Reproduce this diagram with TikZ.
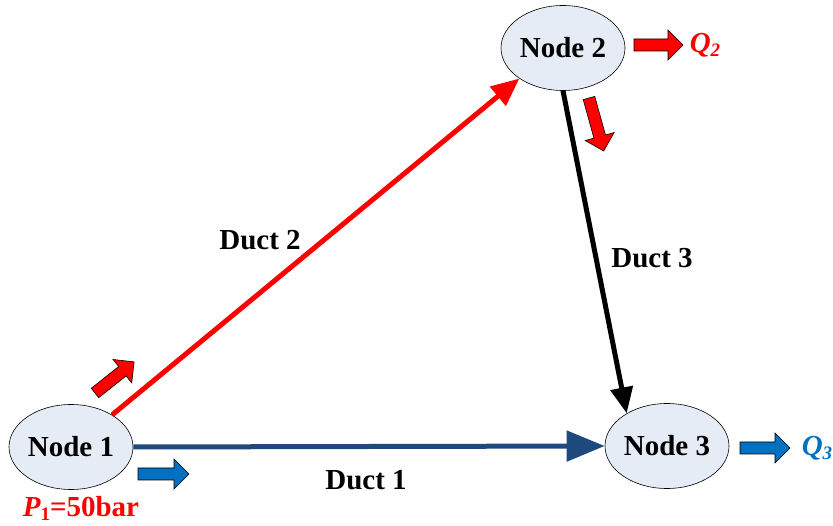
\documentclass[tikz,border=0pt]{standalone}
\usepackage{fontspec}
\setmainfont{Liberation Serif}
\usetikzlibrary{shapes.geometric,arrows.meta}
\definecolor{nodefill}{HTML}{E6ECF6}
\definecolor{ductblue}{HTML}{1F497D}
\definecolor{flowblue}{HTML}{0070C0}
\newcommand\blockarr[5]{%
  \draw[fill=#5, line width=0.6pt, line join=miter, shift={(#1,#2)}, rotate=#3]
    (0,-6) -- (#4-15,-6) -- (#4-15,-15) -- (#4,0) -- (#4-15,15) -- (#4-15,6) -- (0,6) -- cycle;}
\begin{document}
\begin{tikzpicture}[x=1pt,y=-1pt,
  every node/.style={font=\fontsize{29}{32}\selectfont\bfseries},
  netnode/.style={ellipse, draw, line width=0.6pt, fill=nodefill, minimum width=124pt, minimum height=85pt, inner sep=0pt},
  duct/.style={line width=5pt},
  lbl/.style={inner sep=0pt}]
\useasboundingbox (0,0) rectangle (833,526);
\node[netnode] (n1) at (71,447) {Node 1};
\node[netnode] (n2) at (563,48) {Node 2};
\node[netnode] (n3) at (667,446) {Node 3};
% ducts
\draw[duct, ductblue, -{Triangle[length=38pt,width=30pt]}] (n1.east) -- (n3.west);
\draw[duct, red, -{Triangle[length=28pt,width=24pt]}] (n1.38) -- (n2.215);
\draw[duct, black, -{Triangle[length=26pt,width=22pt]}] (n2.south) -- (n3.141);
% labels
\node[lbl] (d1) at (366,480) {Duct 1};
\node[lbl] (d2) at (260,240) {Duct 2};
\node[lbl] (d3) at (652,258) {Duct 3};
% flow arrows
\blockarr{95}{393}{38.5}{50}{red}
\blockarr{589}{98}{-74.5}{55}{red}
\blockarr{634}{45}{0}{49}{red}
\blockarr{138}{474}{0}{51}{flowblue}
\blockarr{740}{448}{0}{50}{flowblue}
% texts
\node[lbl, text=red] (q2) at (705,45) {\itshape Q\fontsize{19}{19}\selectfont\raisebox{-4pt}{2}};
\node[lbl, text=flowblue] (q3) at (817,448) {\itshape Q\fontsize{19}{19}\selectfont\raisebox{-4pt}{3}};
\node[lbl, text=red] (p1) at (81,508) {{\itshape P}\fontsize{19}{19}\selectfont\raisebox{-4pt}{1}\fontsize{29}{32}\selectfont=50bar};
\end{tikzpicture}
\end{document}
